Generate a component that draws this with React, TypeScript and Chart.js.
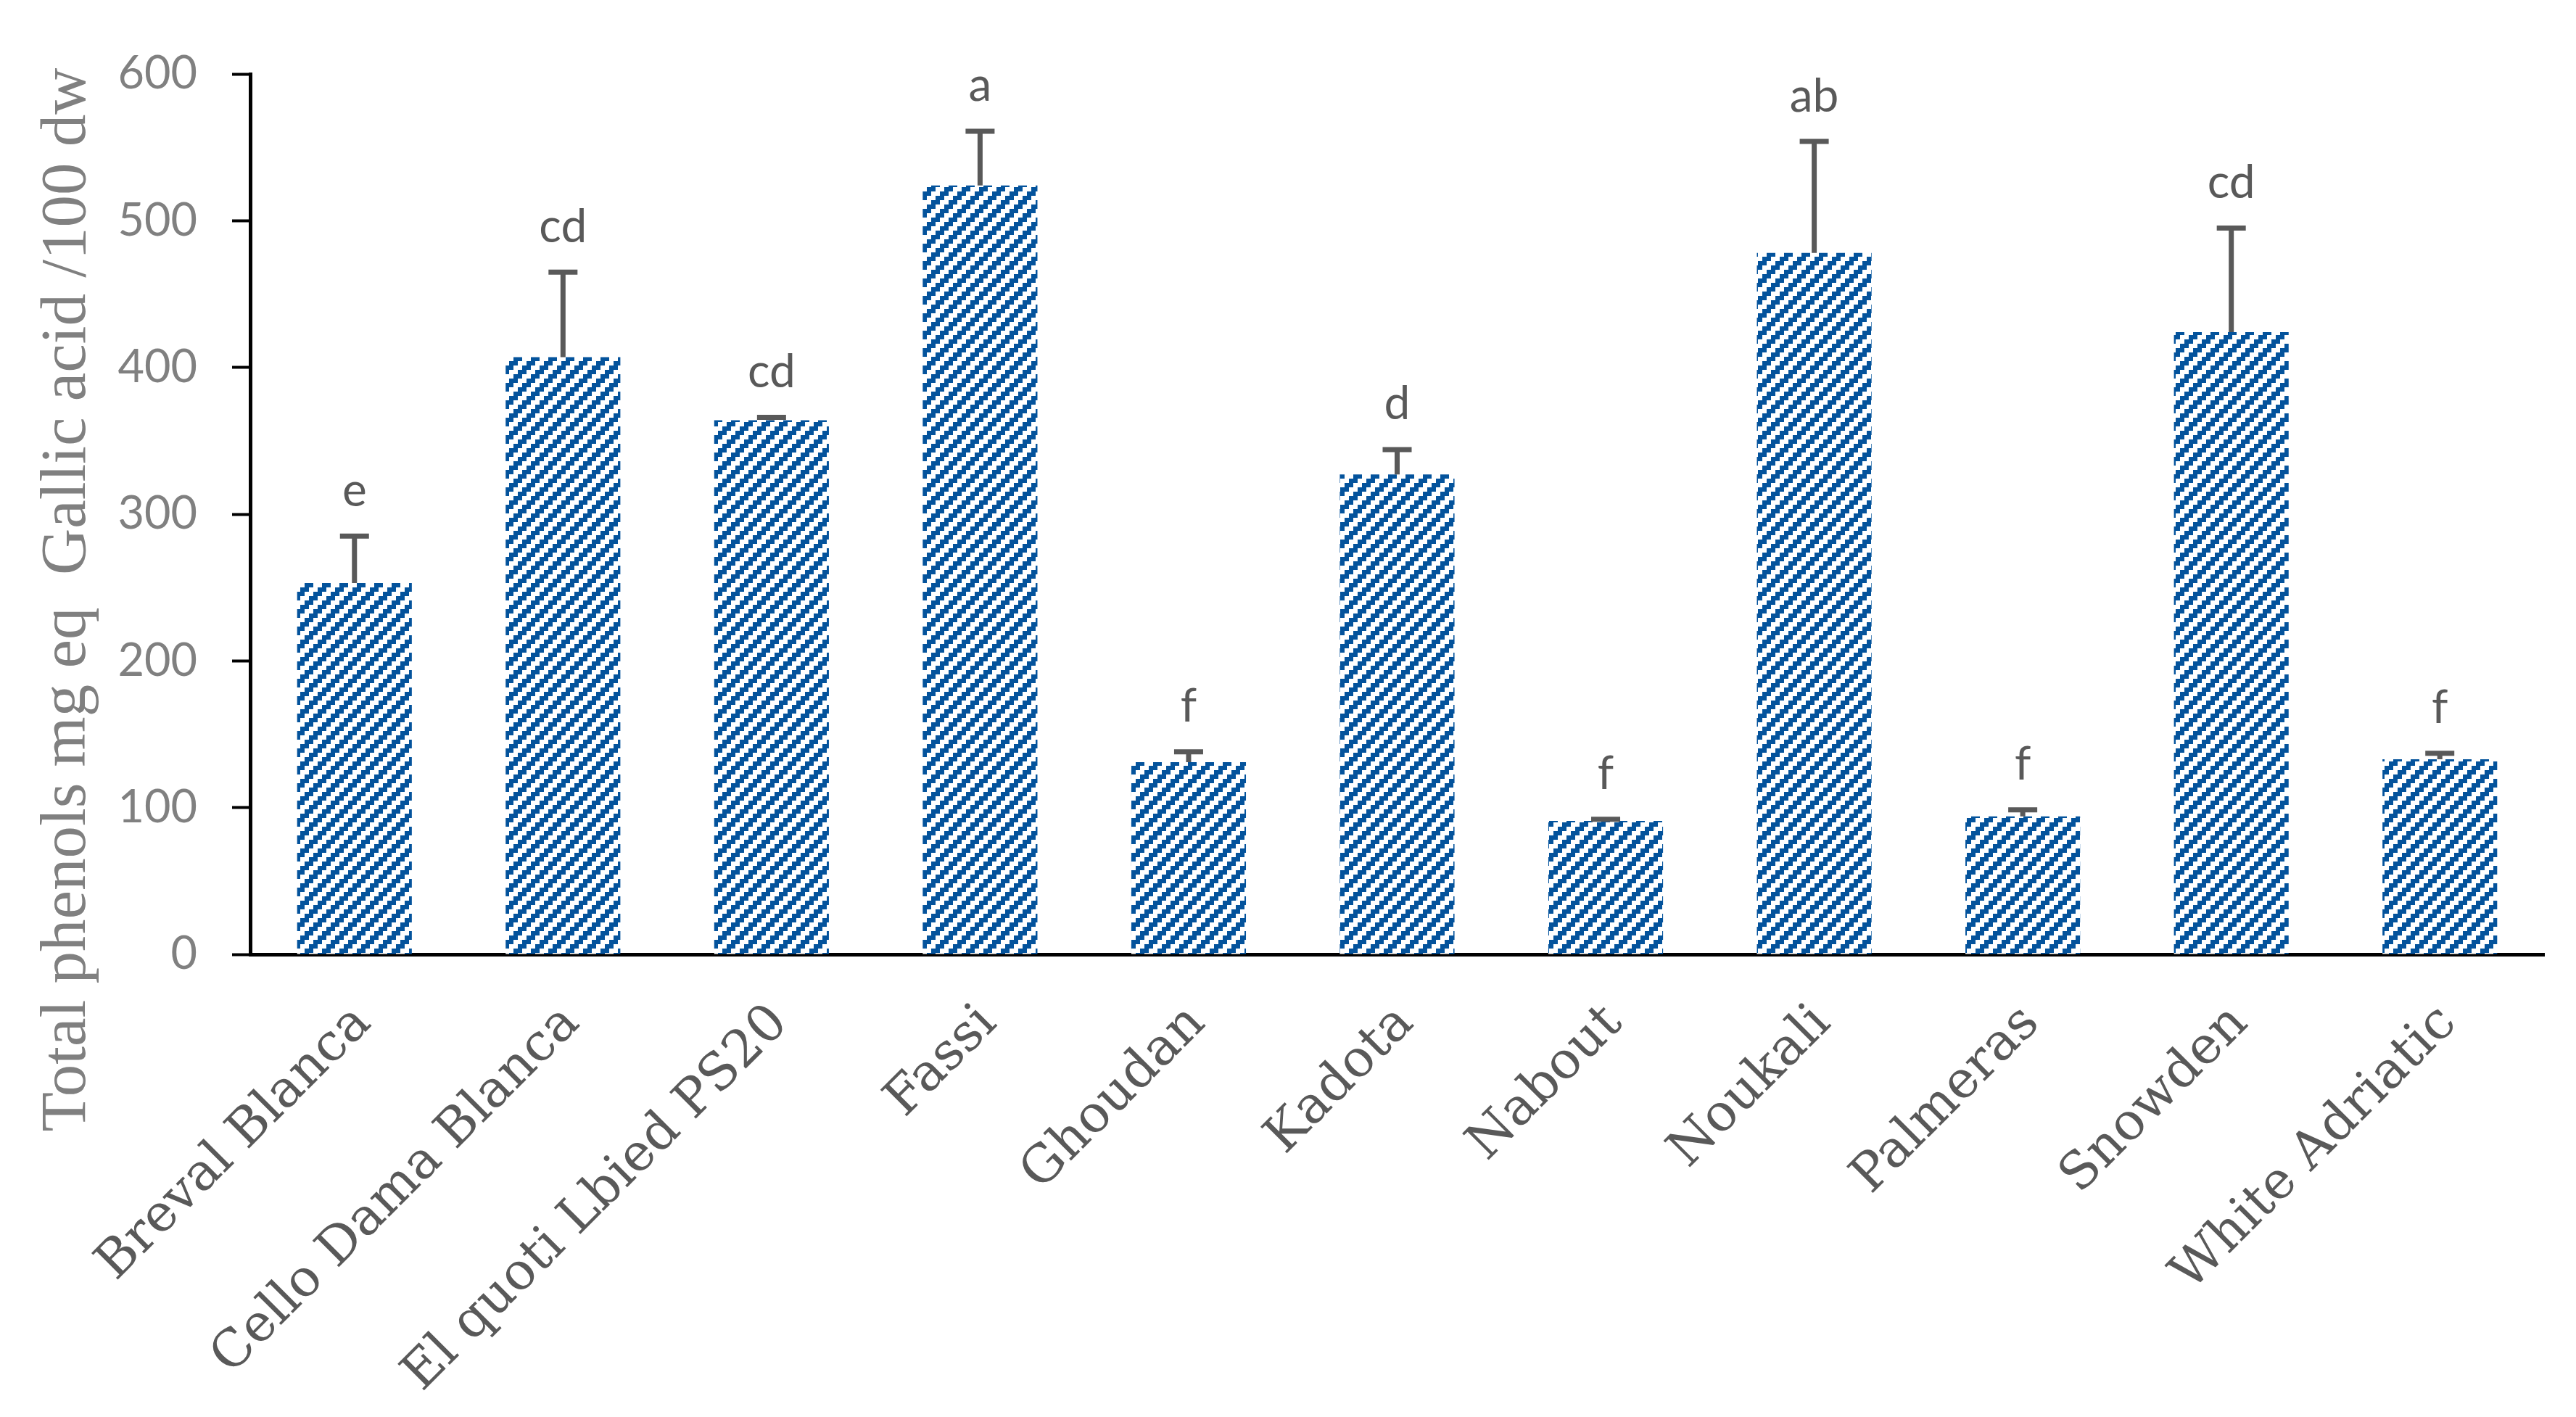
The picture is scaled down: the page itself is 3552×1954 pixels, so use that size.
import React, { useEffect, useRef } from 'react';
import { Chart, registerables } from 'chart.js';

Chart.register(...registerables);

const categories = [
  'Breval Blanca',
  'Cello Dama Blanca',
  'El quoti Lbied PS20',
  'Fassi',
  'Ghoudan',
  'Kadota',
  'Nabout',
  'Noukali',
  'Palmeras',
  'Snowden',
  'White Adriatic',
];
const phenols = [253, 407, 364, 524, 131, 327, 91, 478, 94, 424, 133];
const phenolErrors = [32, 58, 2, 37, 7, 17, 1, 76, 4.5, 71, 4];
const groupLetters = ['e', 'cd', 'cd', 'a', 'f', 'd', 'f', 'ab', 'f', 'cd', 'f'];
const yMin = 0;
const yMax = 600;
const yStep = 100;
const yTitle = 'Total phenols mg eq  Gallic acid /100 dw';

const BAR_BLUE = '#04539C';

function makeHatch(color: string): CanvasPattern | string {
  const cell = 6;
  const n = 4;
  const c = document.createElement('canvas');
  c.width = cell * n;
  c.height = cell * n;
  const g = c.getContext('2d');
  if (!g) return color;
  g.fillStyle = '#ffffff';
  g.fillRect(0, 0, c.width, c.height);
  g.fillStyle = color;
  for (let cy = 0; cy < n; cy++) {
    for (let cx = 0; cx < n; cx++) {
      if ((cx + cy) % n < 2) g.fillRect(cx * cell, cy * cell, cell, cell);
    }
  }
  return g.createPattern(c, 'repeat') || color;
}

const errorBarPlugin = {
  id: 'errorBarsAndLetters',
  afterDatasetsDraw(chart: any) {
    const ctx = chart.ctx as CanvasRenderingContext2D;
    const meta = chart.getDatasetMeta(0);
    const yScale = chart.scales.y;
    ctx.save();
    meta.data.forEach((bar: any, i: number) => {
      const x = bar.x;
      const base = bar.y;
      const top = yScale.getPixelForValue(phenols[i] + phenolErrors[i]);
      ctx.strokeStyle = '#595959';
      ctx.lineWidth = 7;
      ctx.lineCap = 'butt';
      ctx.beginPath();
      ctx.moveTo(x, base);
      ctx.lineTo(x, top);
      ctx.moveTo(x - 20, top);
      ctx.lineTo(x + 20, top);
      ctx.stroke();
      ctx.fillStyle = '#595959';
      ctx.font = '64px Lato';
      ctx.textAlign = 'center';
      ctx.textBaseline = 'alphabetic';
      ctx.fillText(groupLetters[i], x, top - 3.5 - 38);
    });
    ctx.restore();
  },
};

const yTitlePlugin = {
  id: 'yTitleCustom',
  afterDraw(chart: any) {
    const ctx = chart.ctx as CanvasRenderingContext2D;
    ctx.save();
    ctx.translate(117, 827);
    ctx.rotate(-Math.PI / 2);
    ctx.fillStyle = '#808080';
    ctx.font = '89px "Liberation Serif"';
    ctx.textAlign = 'center';
    ctx.textBaseline = 'alphabetic';
    ctx.fillText(yTitle, 0, 0);
    ctx.restore();
  },
};

export default function App() {
  const ref = useRef<HTMLCanvasElement | null>(null);

  useEffect(() => {
    const canvas = ref.current;
    if (!canvas) return;
    const hatch = makeHatch(BAR_BLUE);
    const chart = new Chart(canvas, {
      type: 'bar',
      data: {
        labels: categories,
        datasets: [
          {
            data: phenols,
            backgroundColor: hatch as any,
            borderWidth: 0,
            barPercentage: 0.55,
            categoryPercentage: 1,
          },
        ],
      },
      options: {
        responsive: false,
        animation: false,
        events: [],
        layout: { padding: { top: 102, right: 44, left: 0, bottom: 0 } },
        plugins: {
          legend: { display: false },
          tooltip: { enabled: false },
          title: { display: false },
        },
        scales: {
          x: {
            type: 'category',
            grid: { display: false },
            border: { display: true, color: '#000000', width: 5 },
            ticks: {
              autoSkip: false,
              maxRotation: 45,
              minRotation: 45,
              padding: 46,
              labelOffset: 12,
              color: '#595959',
              font: { family: '"DejaVu Serif"', size: 71 },
            },
            afterFit: (scale: any) => {
              scale.height = 1954 - 1316;
            },
          },
          y: {
            type: 'linear',
            min: yMin,
            max: yMax,
            grid: {
              display: true,
              drawOnChartArea: false,
              drawTicks: true,
              tickLength: 25,
              tickColor: '#000000',
              tickWidth: 4,
            },
            border: { display: true, color: '#000000', width: 5 },
            ticks: {
              stepSize: yStep,
              padding: 48,
              color: '#808080',
              font: { family: 'Lato', size: 63 },
            },
            afterFit: (scale: any) => {
              scale.width = 345;
            },
          },
        },
      },
      plugins: [errorBarPlugin, yTitlePlugin],
    });
    return () => chart.destroy();
  }, []);

  return (
    <div style={{ position: 'fixed', left: 0, top: 0, width: 3552, height: 1954, background: '#ffffff' }}>
      <canvas ref={ref} width={3552} height={1954} style={{ display: 'block', width: 3552, height: 1954 }} />
    </div>
  );
}
